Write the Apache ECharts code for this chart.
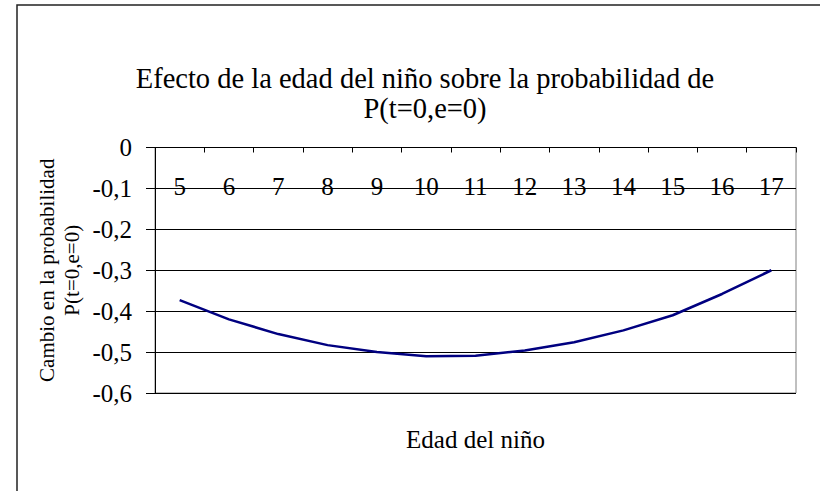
<!DOCTYPE html>
<html>
<head>
<meta charset="utf-8">
<script src="https://cdn.jsdelivr.net/npm/echarts@6/dist/echarts.min.js"></script>
<style>
html,body{margin:0;padding:0;background:#fff;}
#c{width:820px;height:491px;}
</style>
</head>
<body>
<div id="c"></div>
<script>
const titleLines = ['Efecto de la edad del niño sobre la probabilidad de', 'P(t=0,e=0)'];
const xAxisName = 'Edad del niño';
const yAxisNameLines = ['Cambio en la probabilidad', 'P(t=0,e=0)'];
const ages = ['5','6','7','8','9','10','11','12','13','14','15','16','17'];
const probChange = [-0.373, -0.420, -0.456, -0.483, -0.500, -0.510, -0.509, -0.496, -0.476, -0.447, -0.410, -0.358, -0.300];
const yMin = -0.6, yMax = 0, yStep = 0.1;

const FONT = 'Liberation Serif';
const chart = echarts.init(document.getElementById('c'), null, {renderer: 'svg'});
const gridL = 155, gridR = 24, gridT = 147.5, gridB = 98;
const plotCx = gridL + (820 - gridL - gridR) / 2;
const plotCy = gridT + (491 - gridT - gridB) / 2;

chart.setOption({
  backgroundColor: '#fff',
  animation: false,
  grid: {left: gridL, right: gridR, top: gridT, bottom: gridB, show: true, borderColor: '#808080', borderWidth: 1, backgroundColor: 'transparent'},
  xAxis: {
    type: 'category',
    position: 'top',
    data: ages,
    boundaryGap: true,
    axisLine: {onZero: false, lineStyle: {color: '#000', width: 1}},
    axisTick: {show: true, inside: true, length: 5, alignWithLabel: false, lineStyle: {color: '#000'}},
    axisLabel: {inside: true, margin: 26, color: '#000', fontFamily: FONT, fontSize: 25, interval: 0},
    splitLine: {show: false}
  },
  yAxis: {
    type: 'value',
    min: yMin, max: yMax, interval: yStep,
    axisLine: {show: true, lineStyle: {color: '#000', width: 1}},
    axisTick: {show: true, inside: false, length: 9, lineStyle: {color: '#000'}},
    axisLabel: {margin: 23, color: '#000', fontFamily: FONT, fontSize: 25,
      formatter: v => Math.abs(v) < 1e-9 ? '0' : v.toFixed(1).replace('.', ',')},
    splitLine: {show: true, lineStyle: {color: '#000', width: 1}}
  },
  series: [{
    type: 'line',
    data: probChange,
    showSymbol: false,
    symbol: 'none',
    smooth: false,
    lineStyle: {color: '#000080', width: 2.5},
    z: 5
  }],
  graphic: [
    {type: 'rect', shape: {x: 17, y: 5, width: 900, height: 600}, style: {fill: 'none', stroke: '#222', lineWidth: 1.5}, silent: true, z: -1},
    {type: 'text', x: 425, y: 93, style: {text: titleLines.join('\n'), fontFamily: FONT, fontSize: 28.5, lineHeight: 30, fill: '#000', textAlign: 'center', textVerticalAlign: 'middle'}},
    {type: 'text', x: plotCx, y: 439, style: {text: xAxisName, fontFamily: FONT, fontSize: 25, fill: '#000', textAlign: 'center', textVerticalAlign: 'middle'}},
    {type: 'text', x: 59.5, y: plotCy, rotation: Math.PI / 2, style: {text: yAxisNameLines.join('\n'), fontFamily: FONT, fontSize: 21, lineHeight: 25, fill: '#000', textAlign: 'center', textVerticalAlign: 'middle'}}
  ]
});
</script>
</body>
</html>
